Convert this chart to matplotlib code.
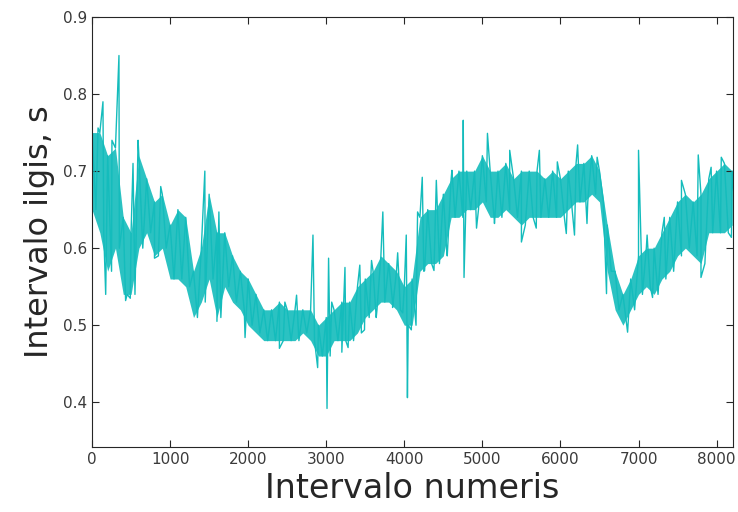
import numpy as np
import matplotlib.pyplot as plt

# ------ DATA ------
# band of the signal, one pair of values every 100 intervals
x_band = np.arange(0, 8300, 100)
band_hi = [0.75, 0.75, 0.72, 0.73, 0.64, 0.62, 0.72, 0.69, 0.66, 0.67,
           0.63, 0.65, 0.64, 0.57, 0.60, 0.67, 0.62, 0.62, 0.59, 0.57,
           0.56, 0.54, 0.52, 0.52, 0.53, 0.52, 0.52, 0.52, 0.52, 0.50,
           0.51, 0.52, 0.53, 0.53, 0.55, 0.56, 0.57, 0.59, 0.58, 0.57,
           0.55, 0.56, 0.64, 0.65, 0.65, 0.67, 0.69, 0.70, 0.70, 0.70,
           0.72, 0.70, 0.70, 0.71, 0.69, 0.70, 0.70, 0.70, 0.69, 0.70,
           0.69, 0.70, 0.71, 0.71, 0.72, 0.70, 0.63, 0.57, 0.54, 0.56,
           0.59, 0.60, 0.60, 0.62, 0.64, 0.66, 0.67, 0.66, 0.67, 0.69,
           0.70, 0.71, 0.70]
band_lo = [0.65, 0.62, 0.57, 0.60, 0.54, 0.54, 0.60, 0.62, 0.59, 0.60,
           0.56, 0.56, 0.55, 0.51, 0.53, 0.56, 0.51, 0.55, 0.53, 0.52,
           0.50, 0.49, 0.48, 0.48, 0.48, 0.48, 0.48, 0.49, 0.48, 0.46,
           0.46, 0.48, 0.48, 0.48, 0.49, 0.51, 0.52, 0.53, 0.53, 0.52,
           0.50, 0.50, 0.57, 0.58, 0.58, 0.59, 0.64, 0.64, 0.65, 0.65,
           0.66, 0.64, 0.64, 0.65, 0.64, 0.63, 0.64, 0.64, 0.64, 0.64,
           0.64, 0.65, 0.66, 0.66, 0.67, 0.66, 0.57, 0.52, 0.50, 0.52,
           0.54, 0.55, 0.54, 0.56, 0.57, 0.59, 0.60, 0.59, 0.58, 0.62,
           0.62, 0.62, 0.63]

# single strokes sticking out of the band, and the big outliers
spike_x = [77, 140, 175, 255, 345, 430, 490, 525, 590, 800,
           880, 1445, 1600, 1625, 1960, 2400, 2470, 2620, 2830, 2890,
           3010, 3030, 3070, 3200, 3240, 3280, 3430, 3490, 3580, 3640,
           3725, 3850, 3915, 3980, 4025, 4040, 4090, 4170, 4230, 4260,
           4380, 4410, 4540, 4610, 4755, 4765, 4925, 5065, 5155, 5350,
           5500, 5690, 5730, 5960, 6075, 6180, 6220, 6340, 6470, 6590,
           6860, 7000, 7110, 7180, 7330, 7550, 7765, 7800, 7930, 8060,
           8190]
spike_v = [0.756, 0.79, 0.54, 0.74, 0.85, 0.532, 0.535, 0.71, 0.74, 0.587,
           0.68, 0.70, 0.505, 0.647, 0.484, 0.47, 0.53, 0.539, 0.617, 0.445,
           0.392, 0.587, 0.53, 0.465, 0.575, 0.471, 0.578, 0.494, 0.584, 0.51,
           0.647, 0.523, 0.594, 0.516, 0.617, 0.406, 0.494, 0.647, 0.692, 0.571,
           0.571, 0.688, 0.601, 0.701, 0.766, 0.562, 0.626, 0.749, 0.632, 0.727,
           0.608, 0.626, 0.727, 0.712, 0.619, 0.617, 0.734, 0.632, 0.718, 0.541,
           0.491, 0.727, 0.617, 0.536, 0.64, 0.688, 0.721, 0.562, 0.705, 0.718,
           0.614]

teal = '#14bcbc'

# ------ BUILD THE LINE ------
xs = np.concatenate([x_band, x_band + 50, spike_x])
ys = np.concatenate([band_hi, band_lo, spike_v])
order = np.argsort(xs, kind='stable')
xs = xs[order]
ys = ys[order]

# ------ PLOT ------
fig = plt.figure(figsize=(7.38, 5.12), dpi=100)
ax = fig.add_axes([0.1247, 0.127, 0.8685, 0.8398])

# dense part of the signal drawn as a band, jagged line on top
ax.fill_between(x_band, band_lo, band_hi, color=teal, lw=0, alpha=0.9)
ax.plot(xs, ys, color=teal, lw=1.0)

ax.set_xlim(0, 8210)
ax.set_ylim(0.342, 0.9)
ax.set_xticks(np.arange(0, 8001, 1000))
ax.set_yticks([0.4, 0.5, 0.6, 0.7, 0.8, 0.9])
ax.set_yticklabels(['0.4', '0.5', '0.6', '0.7', '0.8', '0.9'])

ax.tick_params(direction='in', top=True, right=True, length=5, width=0.8,
               colors='#262626', labelcolor='#3a3a3a', labelsize=11)
for s in ax.spines.values():
    s.set_color('#262626')
    s.set_linewidth(0.8)

ax.set_xlabel('Intervalo numeris', fontsize=24, color='#262626', labelpad=4)
ax.set_ylabel('Intervalo ilgis, s', fontsize=23, color='#262626', labelpad=6)

fig.savefig('out.png', dpi=100)
